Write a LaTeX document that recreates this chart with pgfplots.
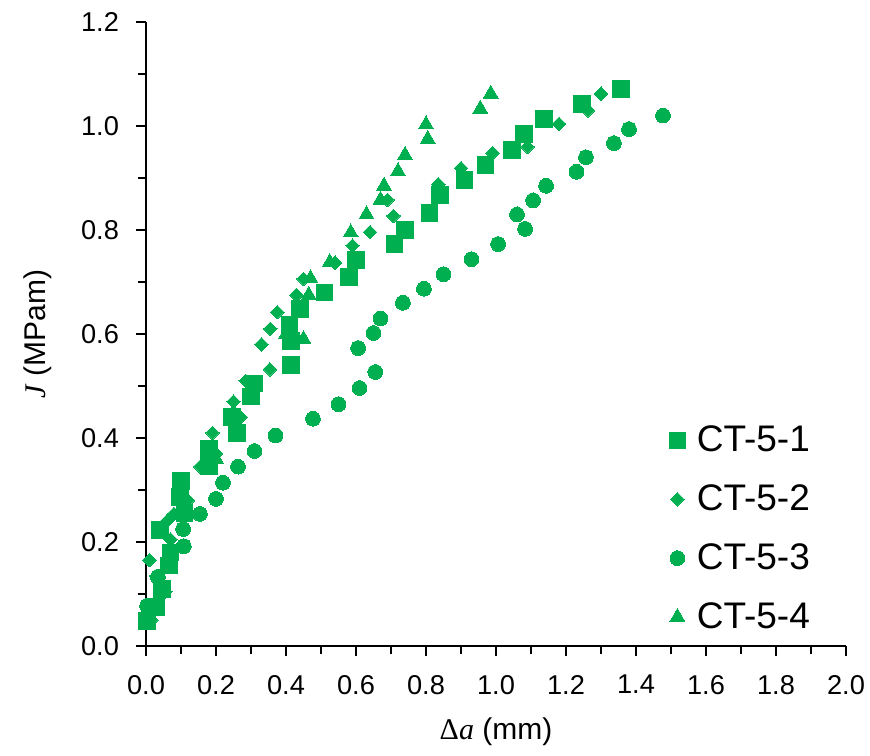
\documentclass[border=0pt]{standalone}
\usepackage{fontspec}
\setmainfont{Liberation Sans}
\newfontfamily\serifF{Liberation Serif}
\usepackage{pgfplots}
\pgfplotsset{compat=1.18}
\definecolor{ctg}{RGB}{0,176,80}
\begin{document}
\begin{tikzpicture}
\begin{axis}[
  scale only axis, width=350pt, height=312pt,
  xmin=0, xmax=2, ymin=0, ymax=1.2,
  axis x line*=bottom, axis y line*=left,
  xtick={0,0.2,0.4,0.6,0.8,1.0,1.2,1.4,1.6,1.8,2.0},
  ytick={0,0.2,0.4,0.6,0.8,1.0,1.2},
  minor x tick num=1, minor y tick num=1,
  tick align=outside, major tick length=5pt, minor tick length=4pt,
  axis line style={line width=0.6pt, black},
  every tick/.style={line width=0.6pt, black},
  /pgf/number format/.cd, fixed, fixed zerofill, precision=1, assume math mode=true,
  /pgfplots/.cd,
  tick label style={font=\fontsize{13.6}{16}\selectfont},
  xticklabel style={yshift=-6pt},
  yticklabel style={xshift=-5pt},
  xlabel={{\serifF Δ\textit{a}} (mm)},
  ylabel={{\serifF\itshape J} (MPam)},
  label style={font=\fontsize{15}{18}\selectfont},
  xlabel style={yshift=-5pt},
  ylabel style={yshift=8pt},
  legend style={at={(axis description cs:0.738,0.366)}, anchor=north west, draw=none, fill=none,
    font=\fontsize{18.5}{22}\selectfont, row sep=11pt, column sep=3.5pt},
  legend cell align=left,
]
\addplot[only marks, color=ctg, mark=square*, mark size=4.2pt, mark options={draw=ctg, fill=ctg, line width=0pt}] coordinates {
(0.003,0.048) (0.03,0.075) (0.045,0.11) (0.065,0.155) (0.07,0.18) (0.04,0.223)
(0.097,0.287) (0.1,0.317) (0.11,0.256) (0.18,0.346) (0.18,0.38) (0.26,0.41)
(0.245,0.44) (0.30,0.48) (0.31,0.505) (0.415,0.54) (0.415,0.587) (0.41,0.617)
(0.44,0.648) (0.51,0.68) (0.58,0.71) (0.60,0.742) (0.71,0.773) (0.74,0.80)
(0.81,0.833) (0.84,0.867) (0.91,0.896) (0.97,0.925) (1.045,0.954) (1.08,0.985)
(1.137,1.013) (1.246,1.042) (1.357,1.071)
};
\addlegendentry{CT-5-1}
\addplot[only marks, color=ctg, mark=square*, mark size=2.4pt, mark options={draw=ctg, fill=ctg, line width=0pt, rotate=45}] coordinates {
(0.015,0.05) (0.055,0.104) (0.01,0.165) (0.03,0.135) (0.07,0.205) (0.06,0.24)
(0.08,0.254) (0.12,0.28) (0.155,0.345) (0.19,0.41) (0.2,0.37) (0.25,0.47) (0.27,0.44)
(0.285,0.51) (0.33,0.58) (0.355,0.61) (0.375,0.642) (0.354,0.532) (0.43,0.675)
(0.45,0.706) (0.54,0.737) (0.59,0.77) (0.64,0.796) (0.707,0.827) (0.69,0.858)
(0.835,0.888) (0.90,0.919) (0.99,0.948) (1.09,0.96) (1.18,1.004) (1.263,1.03) (1.30,1.062)
};
\addlegendentry{CT-5-2}
\addplot[only marks, color=ctg, mark=*, mark size=3.7pt, mark options={draw=ctg, fill=ctg, line width=0pt}] coordinates {
(0.003,0.077) (0.034,0.133) (0.045,0.105) (0.106,0.225) (0.108,0.192) (0.154,0.254)
(0.2,0.283) (0.22,0.314) (0.263,0.345) (0.31,0.375) (0.37,0.405) (0.477,0.437)
(0.55,0.465) (0.61,0.496) (0.655,0.527) (0.606,0.573) (0.65,0.602) (0.67,0.63)
(0.734,0.66) (0.794,0.687) (0.85,0.715) (0.93,0.744) (1.006,0.773) (1.083,0.802)
(1.06,0.83) (1.106,0.857) (1.143,0.885) (1.23,0.912) (1.257,0.94) (1.337,0.967)
(1.38,0.994) (1.477,1.02)
};
\addlegendentry{CT-5-3}
\addplot[only marks, color=ctg, mark=triangle*, mark size=4.3pt, mark options={draw=ctg, fill=ctg, line width=0pt}] coordinates {
(0.02,0.07) (0.06,0.15) (0.1,0.3) (0.2,0.36) (0.25,0.45) (0.3,0.5) (0.4,0.6)
(0.45,0.59) (0.47,0.707) (0.465,0.675) (0.525,0.738) (0.585,0.795) (0.63,0.83)
(0.67,0.858) (0.68,0.885) (0.72,0.913) (0.74,0.944) (0.805,0.975) (0.80,1.003)
(0.955,1.033) (0.985,1.062)
};
\addlegendentry{CT-5-4}
\end{axis}
\path (current axis.south west) ++(-73pt,-54.5pt) coordinate (bl);
\path (current axis.south west) ++(362pt,323pt) coordinate (tr);
\pgfresetboundingbox
\path[use as bounding box] (bl) rectangle (tr);
\end{tikzpicture}
\end{document}
